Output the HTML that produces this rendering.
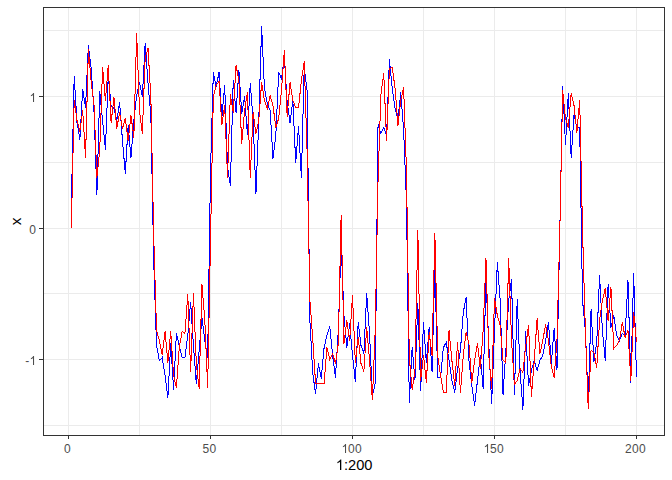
<!DOCTYPE html>
<html><head><meta charset="utf-8"><style>
html,body{margin:0;padding:0;background:#fff;}
body{width:672px;height:480px;overflow:hidden;}
svg{display:block;}
.tl{font-family:"Liberation Sans",sans-serif;font-size:12px;fill:#4D4D4D;}
.at{font-family:"Liberation Sans",sans-serif;font-size:14.67px;fill:#000;}
</style></head><body>
<svg width="672" height="480" viewBox="0 0 672 480">
<rect x="0" y="0" width="672" height="480" fill="#fff"/>
<g stroke="#EBEBEB" stroke-width="1" shape-rendering="crispEdges">
<line x1="139.5" y1="7" x2="139.5" y2="435"/>
<line x1="281.5" y1="7" x2="281.5" y2="435"/>
<line x1="423.5" y1="7" x2="423.5" y2="435"/>
<line x1="565.5" y1="7" x2="565.5" y2="435"/>
<line x1="43" y1="425.5" x2="664" y2="425.5"/>
<line x1="43" y1="293.5" x2="664" y2="293.5"/>
<line x1="43" y1="162.5" x2="664" y2="162.5"/>
<line x1="43" y1="30.5" x2="664" y2="30.5"/>
<line x1="68.5" y1="7" x2="68.5" y2="435"/>
<line x1="210.5" y1="7" x2="210.5" y2="435"/>
<line x1="352.5" y1="7" x2="352.5" y2="435"/>
<line x1="494.5" y1="7" x2="494.5" y2="435"/>
<line x1="636.5" y1="7" x2="636.5" y2="435"/>
<line x1="43" y1="359.5" x2="664" y2="359.5"/>
<line x1="43" y1="228.5" x2="664" y2="228.5"/>
<line x1="43" y1="96.5" x2="664" y2="96.5"/>
</g>
<g fill="none" stroke-width="1" shape-rendering="crispEdges" stroke-linejoin="miter">
<polyline stroke="#0000FF" points="71.34,205.5 74.18,76.5 77.02,122.5 79.86,139.5 82.70,89.5 85.54,107.5 88.38,45.5 91.22,68.5 94.06,112.5 96.90,194.5 99.74,91.5 102.58,120.5 105.42,149.5 108.26,75.5 111.10,105.5 113.94,108.5 116.78,120.5 119.62,102.5 122.46,140.5 125.30,173.5 128.14,125.5 130.98,157.5 133.82,120.5 136.66,95.5 139.50,82.5 142.34,96.5 145.18,43.5 148.02,83.5 150.86,115.5 153.70,260.5 156.54,345.5 159.38,360.5 162.22,357.5 165.06,375.5 167.90,397.5 170.74,343.5 173.58,389.5 176.42,333.5 179.26,345.5 182.10,357.5 184.94,357.5 187.78,335.5 190.62,302.5 193.46,345.5 196.30,383.5 199.14,350.5 201.98,317.5 204.82,340.5 207.66,357.5 210.50,171.5 213.34,72.5 216.18,86.5 219.02,72.5 221.86,117.5 224.70,85.5 227.54,167.5 230.38,185.5 233.22,80.5 236.06,112.5 238.90,70.5 241.74,113.5 244.58,96.5 247.42,134.5 250.26,83.5 253.10,120.5 255.94,193.5 258.78,120.5 261.62,26.5 264.46,88.5 267.30,103.5 270.14,110.5 272.98,158.5 275.82,135.5 278.66,72.5 281.50,78.5 284.34,56.5 287.18,102.5 290.02,122.5 292.86,100.5 295.70,162.5 298.54,126.5 301.38,177.5 304.22,67.5 307.06,90.5 309.90,320.5 312.74,373.5 315.58,393.5 318.42,363.5 321.26,378.5 324.10,347.5 326.94,335.5 329.78,326.5 332.62,355.5 335.46,377.5 338.30,330.5 341.14,243.5 343.98,315.5 346.82,347.5 349.66,323.5 352.50,355.5 355.34,381.5 358.18,322.5 361.02,345.5 363.86,353.5 366.70,293.5 369.54,333.5 372.38,395.5 375.22,383.5 378.06,124.5 380.90,133.5 383.74,127.5 386.58,135.5 389.42,59.5 392.26,88.5 395.10,108.5 397.94,119.5 400.78,92.5 403.62,130.5 406.46,200.5 409.30,402.5 412.14,347.5 414.98,379.5 417.82,303.5 420.66,390.5 423.50,322.5 426.34,362.5 429.18,327.5 432.02,371.5 434.86,266.5 437.70,377.5 440.54,377.5 443.38,347.5 446.22,342.5 449.06,360.5 451.90,380.5 454.74,392.5 457.58,368.5 460.42,350.5 463.26,312.5 466.10,297.5 468.94,360.5 471.78,385.5 474.62,405.5 477.46,380.5 480.30,355.5 483.14,388.5 485.98,278.5 488.82,345.5 491.66,403.5 494.50,330.5 497.34,262.5 500.18,300.5 503.02,394.5 505.86,350.5 508.70,300.5 511.54,279.5 514.38,394.5 517.22,299.5 520.06,370.5 522.90,409.5 525.74,331.5 528.58,385.5 531.42,370.5 534.26,360.5 537.10,370.5 539.94,360.5 542.78,355.5 545.62,340.5 548.46,322.5 551.30,363.5 554.14,328.5 556.98,369.5 559.82,230.5 562.66,86.5 565.50,144.5 568.34,93.5 571.18,157.5 574.02,114.5 576.86,127.5 579.70,127.5 582.54,300.5 585.38,330.5 588.22,402.5 591.06,309.5 593.90,361.5 596.74,342.5 599.58,275.5 602.42,330.5 605.26,360.5 608.10,284.5 610.94,327.5 613.78,315.5 616.62,335.5 619.46,340.5 622.30,333.5 625.14,335.5 627.98,280.5 630.82,382.5 633.66,273.5 636.50,377.5"/>
<polyline stroke="#FF0000" points="71.34,228.5 74.18,100.5 77.02,120.5 79.86,131.5 82.70,110.5 85.54,157.5 88.38,49.5 91.22,82.5 94.06,105.5 96.90,177.5 99.74,150.5 102.58,67.5 105.42,100.5 108.26,65.5 111.10,122.5 113.94,97.5 116.78,128.5 119.62,112.5 122.46,128.5 125.30,118.5 128.14,140.5 130.98,115.5 133.82,137.5 136.66,33.5 139.50,110.5 142.34,133.5 145.18,57.5 148.02,48.5 150.86,97.5 153.70,235.5 156.54,330.5 159.38,340.5 162.22,354.5 165.06,331.5 167.90,362.5 170.74,331.5 173.58,375.5 176.42,387.5 179.26,347.5 182.10,331.5 184.94,333.5 187.78,294.5 190.62,371.5 193.46,293.5 196.30,363.5 199.14,388.5 201.98,284.5 204.82,320.5 207.66,387.5 210.50,240.5 213.34,96.5 216.18,85.5 219.02,81.5 221.86,124.5 224.70,105.5 227.54,177.5 230.38,94.5 233.22,112.5 236.06,65.5 238.90,80.5 241.74,143.5 244.58,110.5 247.42,92.5 250.26,177.5 253.10,112.5 255.94,133.5 258.78,120.5 261.62,82.5 264.46,100.5 267.30,108.5 270.14,95.5 272.98,105.5 275.82,127.5 278.66,118.5 281.50,90.5 284.34,50.5 287.18,116.5 290.02,82.5 292.86,100.5 295.70,107.5 298.54,107.5 301.38,80.5 304.22,61.5 307.06,150.5 309.90,300.5 312.74,338.5 315.58,383.5 318.42,383.5 321.26,383.5 324.10,383.5 326.94,347.5 329.78,359.5 332.62,353.5 335.46,363.5 338.30,343.5 341.14,215.5 343.98,343.5 346.82,320.5 349.66,340.5 352.50,295.5 355.34,362.5 358.18,337.5 361.02,363.5 363.86,371.5 366.70,327.5 369.54,360.5 372.38,399.5 375.22,330.5 378.06,180.5 380.90,94.5 383.74,73.5 386.58,140.5 389.42,68.5 392.26,67.5 395.10,88.5 397.94,125.5 400.78,100.5 403.62,87.5 406.46,170.5 409.30,357.5 412.14,389.5 414.98,370.5 417.82,230.5 420.66,380.5 423.50,355.5 426.34,382.5 429.18,332.5 432.02,355.5 434.86,233.5 437.70,355.5 440.54,375.5 443.38,392.5 446.22,392.5 449.06,330.5 451.90,360.5 454.74,385.5 457.58,342.5 460.42,392.5 463.26,355.5 466.10,332.5 468.94,343.5 471.78,382.5 474.62,360.5 477.46,343.5 480.30,368.5 483.14,330.5 485.98,258.5 488.82,355.5 491.66,388.5 494.50,298.5 497.34,315.5 500.18,325.5 503.02,360.5 505.86,362.5 508.70,258.5 511.54,340.5 514.38,384.5 517.22,380.5 520.06,368.5 522.90,372.5 525.74,345.5 528.58,325.5 531.42,396.5 534.26,360.5 537.10,318.5 539.94,353.5 542.78,340.5 545.62,324.5 548.46,340.5 551.30,366.5 554.14,377.5 556.98,340.5 559.82,230.5 562.66,90.5 565.50,118.5 568.34,127.5 571.18,93.5 574.02,105.5 576.86,132.5 579.70,100.5 582.54,230.5 585.38,330.5 588.22,408.5 591.06,350.5 593.90,352.5 596.74,367.5 599.58,320.5 602.42,300.5 605.26,288.5 608.10,320.5 610.94,287.5 613.78,348.5 616.62,345.5 619.46,340.5 622.30,322.5 625.14,337.5 627.98,330.5 630.82,380.5 633.66,312.5 636.50,342.5"/>
</g>
<g stroke="#333333" stroke-width="1" shape-rendering="crispEdges" fill="none">
<rect x="43.5" y="7.5" width="621" height="428"/>
<line x1="68.5" y1="436" x2="68.5" y2="439"/>
<line x1="210.5" y1="436" x2="210.5" y2="439"/>
<line x1="352.5" y1="436" x2="352.5" y2="439"/>
<line x1="494.5" y1="436" x2="494.5" y2="439"/>
<line x1="636.5" y1="436" x2="636.5" y2="439"/>
<line x1="39" y1="359.5" x2="43" y2="359.5"/>
<line x1="39" y1="228.5" x2="43" y2="228.5"/>
<line x1="39" y1="96.5" x2="43" y2="96.5"/>
</g>
<text x="64.098" y="453" class="tl" style="letter-spacing:0.33px">0</text>
<text x="202.596" y="453" class="tl" style="letter-spacing:0.33px">50</text>
<text x="341.094" y="453" class="tl" style="letter-spacing:0.33px"><tspan fill="transparent">1</tspan>00</text>
<text x="483.094" y="453" class="tl" style="letter-spacing:0.33px"><tspan fill="transparent">1</tspan>50</text>
<text x="625.094" y="453" class="tl" style="letter-spacing:0.33px">200</text>
<text x="25.330" y="365" class="tl">-<tspan fill="transparent">1</tspan></text>
<text x="29.326" y="234" class="tl">0</text>
<text x="29.326" y="102" class="tl"><tspan fill="transparent">1</tspan></text>
<text x="335.845" y="469.9" class="at"><tspan fill="transparent">1</tspan>:200</text>
<path d="M346.055,453.000 L345.000,453.000 L345.000,445.959 C344.748,446.210 344.414,446.462 344.004,446.714 C343.594,446.965 343.219,447.156 342.879,447.285 L342.879,446.216 C343.453,445.934 343.957,445.590 344.385,445.191 C344.812,444.792 345.117,444.399 345.293,444.000 L346.055,444.000 Z" fill="#4D4D4D"/>
<path d="M488.055,453.000 L487.000,453.000 L487.000,445.959 C486.748,446.210 486.414,446.462 486.004,446.714 C485.594,446.965 485.219,447.156 484.879,447.285 L484.879,446.216 C485.453,445.934 485.957,445.590 486.385,445.191 C486.812,444.792 487.117,444.399 487.293,444.000 L488.055,444.000 Z" fill="#4D4D4D"/>
<path d="M34.055,365.000 L33.000,365.000 L33.000,357.959 C32.748,358.210 32.414,358.462 32.004,358.714 C31.594,358.965 31.219,359.156 30.879,359.285 L30.879,358.216 C31.453,357.934 31.957,357.590 32.385,357.191 C32.812,356.792 33.117,356.399 33.293,356.000 L34.055,356.000 Z" fill="#4D4D4D"/>
<path d="M34.055,102.000 L33.000,102.000 L33.000,94.959 C32.748,95.210 32.414,95.462 32.004,95.714 C31.594,95.965 31.219,96.156 30.879,96.285 L30.879,95.216 C31.453,94.934 31.957,94.590 32.385,94.191 C32.812,93.792 33.117,93.399 33.293,93.000 L34.055,93.000 Z" fill="#4D4D4D"/>
<path d="M341.289,469.900 L340.000,469.900 L340.000,461.684 C339.692,461.978 339.284,462.271 338.782,462.565 C338.281,462.859 337.822,463.081 337.407,463.231 L337.407,461.985 C338.109,461.655 338.725,461.254 339.248,460.789 C339.771,460.323 340.143,459.865 340.358,459.399 L341.289,459.399 Z" fill="#000"/>
<text transform="translate(20.6,221.3) rotate(-90)" text-anchor="middle" class="at" style="font-size:15.5px">x</text>
</svg>
</body></html>
